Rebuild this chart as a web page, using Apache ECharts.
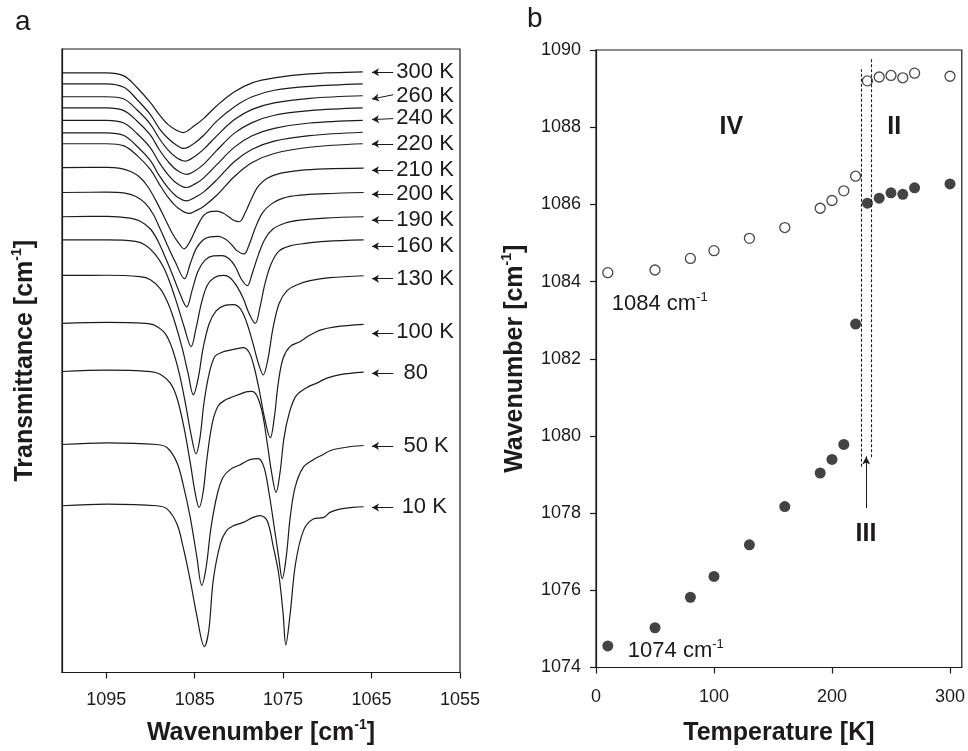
<!DOCTYPE html>
<html>
<head>
<meta charset="utf-8">
<script src="https://cdn.jsdelivr.net/npm/echarts@6/dist/echarts.min.js"></script>
<style>
html,body{margin:0;padding:0;background:#fff;}
#chart{width:968px;height:751px;}
</style>
</head>
<body>
<div id="chart"></div>
<script>
// ---------- Panel a: IR spectra, [wavenumber cm-1, transmittance (a.u., offset)] ----------
const spectrum300K = [[1100,60.3],[1095,60.3],[1093,60.0],[1091.5,58.8],[1090,57.3],[1089,56.1],[1088,55.1],[1087,54.5],[1086.3,54.3],[1085,55.0],[1084,55.7],[1082.5,57.0],[1080.5,58.4],[1078.5,59.3],[1076,59.8],[1072,60.2],[1066,60.4]];
const spectrum270K = [[1100,59.2],[1095,59.2],[1093,58.85],[1091.5,57.6],[1090,56.1],[1089,54.7],[1088,53.7],[1087,53.0],[1086.2,52.7],[1085,53.25],[1084,54.0],[1082.5,55.45],[1080.5,56.9],[1078.5,57.9],[1076,58.55],[1072,58.95],[1066,59.2]];
const spectrum260K = [[1100,57.9],[1095,57.9],[1093,57.67],[1091.5,56.56],[1090,55.13],[1089,53.7],[1088,52.53],[1087,51.75],[1086,51.43],[1085,51.89],[1084,52.6],[1082.5,53.97],[1080.5,55.6],[1078.5,56.63],[1076,57.28],[1072,57.74],[1066,58.0]];
const spectrum250K = [[1100,56.77],[1095,56.77],[1093,56.5],[1091.5,55.44],[1090,54.04],[1089,52.57],[1088,51.37],[1087,50.5],[1085.9,50.1],[1085,50.43],[1084,51.1],[1082.5,52.5],[1080.5,54.24],[1078.5,55.3],[1076,56.04],[1072,56.5],[1066,56.77]];
const spectrum240K = [[1100,55.53],[1095,55.53],[1093,55.26],[1091.5,54.18],[1090,52.76],[1089,51.27],[1088,50.05],[1087,49.18],[1085.9,48.77],[1085,49.11],[1084,49.72],[1082.5,51.07],[1080.5,52.83],[1078.5,53.98],[1076,54.72],[1072,55.26],[1066,55.53]];
const spectrum230K = [[1100,54.27],[1095,54.27],[1093,54.0],[1091.5,52.9],[1090,51.47],[1089,49.96],[1088,48.73],[1087,47.84],[1085.9,47.43],[1085,47.76],[1084,48.31],[1082.5,49.54],[1080.5,51.39],[1078.5,52.62],[1076,53.44],[1072,53.99],[1066,54.33]];
const spectrum220K = [[1100,53.17],[1095,53.17],[1093,52.96],[1091.5,51.98],[1090,50.58],[1089,49.11],[1088,47.78],[1087,46.8],[1085.6,46.17],[1085,46.38],[1084,46.87],[1082.5,47.99],[1080.5,49.88],[1078.5,51.28],[1076,52.19],[1072,52.82],[1066,53.17]];
const spectrum210K = [[1100,50.77],[1094.9,50.8],[1093.4,50.7],[1092.3,50.4],[1091.2,49.8],[1090.25,48.8],[1089.35,47.4],[1088.45,45.8],[1087.55,44.2],[1086.75,43.1],[1086.2,42.6],[1085.5,43.4],[1084.7,44.9],[1083.95,46.0],[1083.25,46.35],[1082.5,46.4],[1081.8,46.2],[1081.1,45.8],[1080.55,45.45],[1079.95,45.33],[1079.3,46.2],[1078.6,47.6],[1077.8,48.9],[1076.8,49.7],[1075.35,50.2],[1073.1,50.5],[1070.25,50.65],[1065.9,50.73]];
const spectrum200K = [[1100,48.27],[1094.9,48.3],[1092.9,48.2],[1091.7,47.9],[1090.6,47.2],[1089.7,46.1],[1088.9,44.6],[1088.1,43.0],[1087.2,41.3],[1086.15,39.6],[1085.5,41.1],[1084.85,42.6],[1084.05,43.5],[1083.25,43.8],[1082.35,43.85],[1081.55,43.6],[1080.9,43.1],[1080.2,42.4],[1079.4,42.1],[1078.85,43.0],[1078.15,44.7],[1077.35,46.2],[1076.35,47.1],[1075.0,47.7],[1073.1,48.0],[1070.25,48.15],[1065.9,48.27]];
const spectrum190K = [[1100,45.83],[1094.9,45.87],[1092.3,45.7],[1091.2,45.4],[1090.0,44.6],[1089.1,43.3],[1088.35,41.8],[1087.55,40.1],[1086.75,38.3],[1085.9,36.77],[1085.3,38.4],[1084.6,40.4],[1083.8,41.5],[1082.9,41.9],[1081.9,41.93],[1081.1,41.6],[1080.4,40.8],[1079.75,39.6],[1079.05,38.9],[1078.5,40.1],[1077.8,42.0],[1077.05,43.6],[1076.15,44.6],[1074.75,45.2],[1073.1,45.5],[1070.25,45.7],[1065.9,45.83]];
const spectrum160K = [[1100,43.5],[1094.9,43.5],[1091.7,43.35],[1090.6,43.0],[1089.5,42.1],[1088.55,40.8],[1087.75,39.1],[1087.0,37.1],[1086.2,34.8],[1085.4,32.77],[1084.85,34.6],[1084.25,37.1],[1083.6,38.9],[1082.8,39.7],[1081.75,39.93],[1081.0,39.7],[1080.2,38.8],[1079.5,37.6],[1078.85,36.1],[1078.15,35.1],[1077.6,36.8],[1077.05,39.1],[1076.35,41.1],[1075.45,42.4],[1074.2,42.9],[1072.5,43.15],[1070.25,43.35],[1065.9,43.5]];
const spectrum130K = [[1100,39.93],[1094.9,39.95],[1091.2,39.8],[1090.0,39.5],[1088.9,38.6],[1088.0,37.1],[1087.2,35.1],[1086.4,32.6],[1085.75,30.1],[1085.15,27.93],[1084.6,29.6],[1084.05,32.6],[1083.35,35.1],[1082.55,36.4],[1081.65,36.9],[1080.6,37.0],[1079.85,36.6],[1079.2,35.4],[1078.5,33.4],[1077.8,31.1],[1077.25,29.93],[1076.7,31.6],[1076.15,34.6],[1075.45,37.1],[1074.55,38.4],[1073.4,39.0],[1071.95,39.4],[1069.7,39.7],[1065.9,39.9]];
const spectrum100K = [[1100,35.1],[1094.9,35.2],[1090.6,35.1],[1089.5,34.9],[1088.35,34.1],[1087.55,32.6],[1086.75,30.1],[1086.05,27.1],[1085.4,23.9],[1084.85,22.0],[1084.4,23.6],[1083.95,27.1],[1083.35,30.1],[1082.7,31.8],[1081.9,32.2],[1081.1,32.4],[1080.3,32.55],[1079.5,32.67],[1078.85,32.2],[1078.3,30.8],[1077.7,28.4],[1077.1,25.6],[1076.45,23.6],[1076.0,25.6],[1075.55,29.1],[1075.0,31.6],[1074.2,32.8],[1073.1,33.27],[1071.95,33.93],[1070.8,34.43],[1069.1,34.75],[1065.9,35.0]];
const spectrum80K = [[1100,30.27],[1094.9,30.4],[1090.0,30.25],[1088.9,30.0],[1087.75,29.1],[1087.0,27.6],[1086.2,24.6],[1085.5,21.1],[1084.95,18.1],[1084.5,16.6],[1084.05,18.1],[1083.6,21.6],[1083.0,25.1],[1082.35,26.8],[1081.55,27.4],[1080.75,27.7],[1079.85,28.0],[1079.05,28.25],[1078.55,28.27],[1077.95,27.8],[1077.35,26.1],[1076.8,23.1],[1076.3,20.1],[1075.8,18.1],[1075.35,20.1],[1074.9,23.6],[1074.3,26.1],[1073.55,27.8],[1072.3,28.67],[1071.2,29.1],[1070.05,29.6],[1068.55,29.95],[1065.9,30.2]];
const spectrum50K = [[1100,22.93],[1094.9,23.1],[1089.3,22.93],[1088.1,22.6],[1087.0,21.1],[1086.3,18.9],[1085.5,15.6],[1084.75,11.6],[1084.2,8.77],[1083.7,10.6],[1083.15,14.6],[1082.45,17.9],[1081.8,19.6],[1081.0,20.4],[1079.85,20.9],[1078.75,21.4],[1077.8,21.5],[1077.15,20.6],[1076.6,18.1],[1076.0,14.6],[1075.5,11.6],[1075.1,9.43],[1074.65,11.6],[1074.2,15.6],[1073.65,18.6],[1072.75,20.6],[1071.6,21.4],[1070.5,21.9],[1069.7,22.3],[1068.55,22.55],[1067.1,22.75],[1065.9,22.83]];
const spectrum10K = [[1100,16.77],[1094.9,16.93],[1089.3,16.77],[1088.1,16.43],[1087.0,14.93],[1086.3,12.6],[1085.5,9.27],[1084.8,5.93],[1083.9,2.6],[1083.4,4.27],[1082.9,9.27],[1082.1,12.93],[1081.4,14.27],[1080.6,14.77],[1079.5,15.1],[1078.4,15.6],[1077.6,15.77],[1076.8,15.27],[1076.1,12.6],[1075.5,9.93],[1075.0,5.93],[1074.7,2.77],[1074.2,5.93],[1073.6,10.93],[1072.7,14.27],[1071.6,15.43],[1070.4,15.6],[1069.7,16.1],[1068.6,16.43],[1067.1,16.6],[1065.9,16.67]];

const spectrumLabels   = ['300 K','260 K','240 K','220 K','210 K','200 K','190 K','160 K','130 K','100 K','80','50 K','10 K'];
const labelLevels      = [60.37,57.93,55.77,53.17,50.5,48.1,45.5,42.87,39.6,34.27,30.1,22.77,16.6];
const labelStart       = [1062.2,1062.2,1062.2,1062.2,1062.2,1062.2,1062.2,1062.2,1062.2,1062.2,1061.4,1061.4,1061.6];
const arrowTipLevels   = [60.37,57.67,55.6,53.17,50.5,48.1,45.5,42.87,39.6,34.1,30.1,22.77,16.6];
const arrowTailLevels  = [60.37,58.1,55.7,53.17,50.5,48.1,45.5,42.87,39.6,34.1,30.1,22.77,16.6];
const arrowTipX = 1064.95, arrowTailX = 1062.55;
const wavenumberTicks = [1055,1065,1075,1085,1095];

// ---------- Panel b: band positions vs temperature ----------
const temperatures = [10,50,80,100,130,160,190,200,210,220,230,240,250,260,270,300];
const upperBand = [1084.23,1084.3,1084.6,1084.8,1085.12,1085.4,1085.9,1086.1,1086.35,1086.73,1089.2,1089.3,1089.34,1089.28,1089.4,1089.32];
const lowerBand = [1074.56,1075.03,1075.82,1076.36,1077.18,1078.17,1079.04,1079.39,1079.78,1082.9,1086.03,1086.16,1086.3,1086.26,1086.43,1086.53];
const boundaryA = [[225,1079.2],[225,1089.5]];
const boundaryB = [[233.5,1079.45],[233.5,1089.8]];
const phaseArrow = [[229,1078.13],[229,1079.47]];
const phaseLabels = [['IV',114.7,1088.0],['II',252.7,1088.0],['III',228.8,1077.46]];
const bandLabels = [['1084',13.3,1083.42],['1074',27,1074.42]];
const temperatureTicks = [0,100,200,300];

const FONT = 'Liberation Sans, Arial, Helvetica, sans-serif';
const INK = '#1c1a1a';

const spectra = [spectrum300K,spectrum270K,spectrum260K,spectrum250K,spectrum240K,spectrum230K,spectrum220K,
  spectrum210K,spectrum200K,spectrum190K,spectrum160K,spectrum130K,spectrum100K,spectrum80K,spectrum50K,spectrum10K];

const chart = echarts.init(document.getElementById('chart'), null, {renderer:'canvas'});

const titleRich = {
  t:{fontSize:25,fontWeight:'bold',fontFamily:FONT,color:INK,lineHeight:30},
  s:{fontSize:14,fontWeight:'bold',fontFamily:FONT,color:INK,verticalAlign:'top',lineHeight:14}
};
const plain = v => String(v);

const series = [];
spectra.forEach(d => series.push({
  type:'line', xAxisIndex:0, yAxisIndex:0, data:d, smooth:0.35, showSymbol:false, silent:true,
  lineStyle:{color:INK,width:1.2}
}));

series.push({
  type:'scatter', xAxisIndex:0, yAxisIndex:0, symbolSize:0, silent:true,
  itemStyle:{color:INK},
  data: spectrumLabels.map((t,i)=>[labelStart[i],labelLevels[i],t]),
  label:{show:true, position:'right', distance:0, formatter:p=>p.data[2],
    fontSize:22, fontFamily:FONT, color:INK, opacity:1},
  markLine:{silent:true, symbol:['none','arrow'], symbolSize:[6,7], animation:false,
    label:{show:false}, lineStyle:{color:INK,width:1,type:'solid'},
    data: spectrumLabels.map((t,i)=>[{coord:[arrowTailX,arrowTailLevels[i]]},{coord:[arrowTipX,arrowTipLevels[i]]}])
  }
});

[boundaryA,boundaryB].forEach(b => series.push({
  type:'line', xAxisIndex:1, yAxisIndex:1, data:b, showSymbol:false, silent:true,
  lineStyle:{color:INK,width:1.1,type:[3,2]}
}));

series.push({
  type:'scatter', xAxisIndex:1, yAxisIndex:1, symbol:'circle', symbolSize:10, silent:true,
  itemStyle:{color:'#fff',borderColor:INK,borderWidth:1.3},
  data: temperatures.map((t,i)=>[t,upperBand[i]])
});
series.push({
  type:'scatter', xAxisIndex:1, yAxisIndex:1, symbol:'circle', symbolSize:11, silent:true,
  itemStyle:{color:'#141414'},
  data: temperatures.map((t,i)=>[t,lowerBand[i]])
});

series.push({
  type:'scatter', xAxisIndex:1, yAxisIndex:1, symbolSize:0, silent:true,
  itemStyle:{color:INK},
  data: phaseLabels.map(p=>[p[1],p[2],p[0]]),
  label:{show:true, position:'inside', formatter:p=>p.data[2], fontSize:25, fontWeight:'bold', fontFamily:FONT,
    color:INK, textBorderWidth:0, opacity:1},
  markLine:{silent:true, symbol:['none','arrow'], symbolSize:[6,8], animation:false,
    label:{show:false}, lineStyle:{color:INK,width:1,type:'solid'},
    data:[[{coord:phaseArrow[0]},{coord:phaseArrow[1]}]]}
});

series.push({
  type:'scatter', xAxisIndex:1, yAxisIndex:1, symbolSize:0, silent:true,
  itemStyle:{color:INK},
  data: bandLabels.map(p=>[p[1],p[2],p[0]]),
  label:{show:true, position:'right', distance:0, opacity:1,
    formatter:p=>'{n|'+p.data[2]+' cm}{s|-1}',
    rich:{n:{fontSize:22,fontFamily:FONT,color:INK,lineHeight:26},
          s:{fontSize:13,fontFamily:FONT,color:INK,verticalAlign:'top',lineHeight:13}}}
});

const option = {
  animation:false,
  backgroundColor:'#fff',
  title:[
    {text:'a', left:10, top:3, textStyle:{fontSize:28,fontWeight:'normal',fontFamily:FONT,color:INK}},
    {text:'b', left:522, top:0, textStyle:{fontSize:28,fontWeight:'normal',fontFamily:FONT,color:INK}}
  ],
  grid:[
    {left:62, top:49, width:398, height:627, show:true, borderColor:INK, borderWidth:1.2, backgroundColor:'transparent'},
    {left:596, top:50, width:367, height:623, show:true, borderColor:INK, borderWidth:1.2, backgroundColor:'transparent'}
  ],
  xAxis:[
    {type:'value', gridIndex:0, min:1055, max:1100, interval:10, inverse:true,
     axisLine:{show:true,lineStyle:{color:INK,width:1.2}},
     axisTick:{show:true,length:6,customValues:wavenumberTicks,lineStyle:{color:INK,width:1.2}},
     axisLabel:{customValues:wavenumberTicks,formatter:plain,fontSize:18,fontFamily:FONT,color:INK,margin:19},
     splitLine:{show:false},
     name:'{t|Wavenumber [cm}{s|-1}{t|]}', nameLocation:'middle', nameGap:46,
     nameTextStyle:{rich:titleRich}},
    {type:'value', gridIndex:1, min:0, max:310, interval:100,
     axisLine:{show:true,lineStyle:{color:INK,width:1.2}},
     axisTick:{show:true,length:6,customValues:temperatureTicks,lineStyle:{color:INK,width:1.2}},
     axisLabel:{customValues:temperatureTicks,formatter:plain,fontSize:18,fontFamily:FONT,color:INK,margin:21},
     splitLine:{show:false},
     name:'{t|Temperature [K]}', nameLocation:'middle', nameGap:51,
     nameTextStyle:{rich:titleRich}}
  ],
  yAxis:[
    {type:'value', gridIndex:0, min:0, max:62.7,
     axisLine:{show:true,lineStyle:{color:INK,width:1.2}},
     axisTick:{show:false}, axisLabel:{show:false}, splitLine:{show:false},
     name:'{t|Transmittance [cm}{s|-1}{t|]}', nameLocation:'middle', nameGap:22,
     nameTextStyle:{rich:titleRich}},
    {type:'value', gridIndex:1, min:1074, max:1090, interval:2,
     axisLine:{show:true,lineStyle:{color:INK,width:1.2}},
     axisTick:{show:true,length:6,lineStyle:{color:INK,width:1.2}},
     axisLabel:{formatter:plain,fontSize:18,fontFamily:FONT,color:INK,margin:15},
     splitLine:{show:false},
     name:'{t|Wavenumber [cm}{s|-1}{t|]}', nameLocation:'middle', nameGap:66,
     nameTextStyle:{rich:titleRich}}
  ],
  series: series
};
chart.setOption(option);
</script>
</body>
</html>
